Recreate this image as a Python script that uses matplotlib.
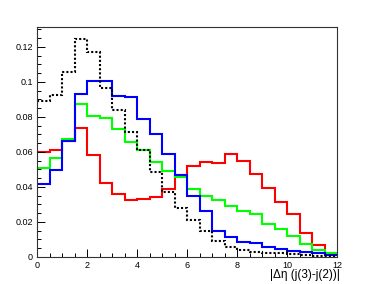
import numpy as np
import matplotlib
matplotlib.use("Agg")
import matplotlib.pyplot as plt
from matplotlib.ticker import MultipleLocator, FormatStrFormatter

plt.rcParams['font.family'] = ['Liberation Sans', 'DejaVu Sans']

# 24 bins of width 0.5 from 0 to 12
edges = np.linspace(0, 12, 25)

black = [0.089, 0.0924, 0.1054, 0.1244, 0.1168, 0.0962, 0.0842, 0.0712, 0.0612, 0.0486,
         0.0371, 0.028, 0.0214, 0.0146, 0.009, 0.0059, 0.004, 0.003, 0.0025, 0.002,
         0.0016, 0.0012, 0.0008, 0.0005]
blue = [0.0415, 0.0497, 0.0665, 0.093, 0.1003, 0.1006, 0.092, 0.0914, 0.079, 0.0705,
        0.0587, 0.0467, 0.0346, 0.0262, 0.015, 0.0115, 0.0086, 0.0082, 0.0055, 0.0044,
        0.0036, 0.0028, 0.0022, 0.0012]
green = [0.0509, 0.0564, 0.0675, 0.0871, 0.0806, 0.0794, 0.073, 0.0657, 0.0613, 0.054,
         0.049, 0.0457, 0.039, 0.0347, 0.0324, 0.029, 0.0263, 0.0248, 0.0187, 0.0161,
         0.0121, 0.0075, 0.0038, 0.0022]
red = [0.0597, 0.061, 0.0663, 0.0739, 0.0581, 0.0425, 0.0357, 0.0324, 0.0329, 0.034,
       0.0388, 0.047, 0.052, 0.0543, 0.0537, 0.0587, 0.0547, 0.0471, 0.0394, 0.0314,
       0.0248, 0.0139, 0.0071, 0.0023]

fig = plt.figure(figsize=(3.74, 2.84), dpi=100)
ax = fig.add_axes([37/374, 1-257/284, 300/374, 230/284])

ax.stairs(red, edges, baseline=None, color='#ff0000', lw=1.5)
ax.stairs(green, edges, baseline=None, color='#00ff00', lw=1.5)
ax.stairs(blue, edges, baseline=None, color='#0000ff', lw=1.5)
ax.stairs(black, edges, baseline=None, color='black', lw=1.5, linestyle=(0, (1, 1)))

ax.set_xlim(0, 12)
ax.set_ylim(0, 0.1313)

ax.xaxis.set_major_locator(MultipleLocator(2))
ax.xaxis.set_minor_locator(MultipleLocator(0.5))
ax.yaxis.set_major_locator(MultipleLocator(0.02))
ax.yaxis.set_minor_locator(MultipleLocator(0.005))
ax.xaxis.set_major_formatter(FormatStrFormatter('%g'))
ax.yaxis.set_major_formatter(FormatStrFormatter('%g'))

ax.tick_params(which='both', direction='in', top=False, right=False,
               labelsize=6.5, width=0.7, colors='black')
ax.tick_params(which='major', length=6, pad=3)
ax.tick_params(which='minor', length=3)
for s in ax.spines.values():
    s.set_linewidth(0.8)
    s.set_color('#333333')

ax.set_xlabel('|\u0394\u03b7 (j(3)-j(2))|', fontsize=8.5, ha='right', va='center')
ax.xaxis.set_label_coords(1.01, -0.08)

fig.savefig('out.png', dpi=100)
